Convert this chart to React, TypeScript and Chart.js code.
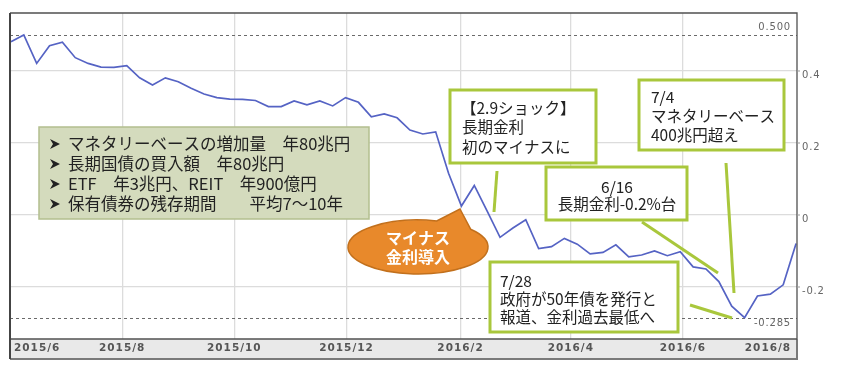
import { useEffect, useRef } from "react";
import { Chart, registerables } from "chart.js";

Chart.register(...registerables);

// ---- data ----
// weekly 10y JGB yield (%), first observation ~2015/6/1
const FIRST_DAY = 0.5; // days after 2015/6/1
const STEP_DAYS = 7;
const YIELD_10Y = [
  0.481, 0.5, 0.421, 0.47, 0.48, 0.437, 0.421, 0.411, 0.41, 0.415,
  0.381, 0.361, 0.381, 0.37, 0.352, 0.336, 0.326, 0.322, 0.321, 0.318,
  0.301, 0.301, 0.317, 0.306, 0.317, 0.303, 0.326, 0.313, 0.273, 0.281,
  0.27, 0.236, 0.225, 0.231, 0.116, 0.025, 0.082, 0.011, -0.062, -0.036,
  -0.013, -0.093, -0.088, -0.065, -0.081, -0.108, -0.104, -0.083, -0.116, -0.111,
  -0.1, -0.113, -0.102, -0.144, -0.15, -0.185, -0.253, -0.285, -0.225, -0.22,
  -0.194, -0.079,
];
const X_TICK_DAYS = [0, 61, 122, 183, 245, 305, 366, 427];
const X_TICK_LABELS = ["2015/6", "2015/8", "2015/10", "2015/12", "2016/2", "2016/4", "2016/6", "2016/8"];
const Y_TICKS = [0.4, 0.2, 0, -0.2];
const Y_TICK_LABELS = ["0.4", "0.2", "0", "-0.2"];
const X_MIN = 0;
const X_MAX = 428;
const Y_MIN = -0.3444;
const Y_MAX = 0.5611;
const MAX_MARK = 0.5;
const MAX_MARK_LABEL = "0.500";
const MIN_MARK = -0.285;
const MIN_MARK_LABEL = "-0.285";

const POLICY_LINES = [
  "マネタリーベースの増加量　年80兆円",
  "長期国債の買入額　年80兆円",
  "ETF　年3兆円、REIT　年900億円",
  "保有債券の残存期間　　平均7～10年",
];
const BUBBLE_LINES = ["マイナス", "金利導入"];
const NOTE_29 = ["【2.9ショック】", "長期金利", "初のマイナスに"];
const NOTE_74 = ["7/4", "マネタリーベース", "400兆円超え"];
const NOTE_616 = ["6/16", "長期金利-0.2%台"];
const NOTE_728 = ["7/28", "政府が50年債を発行と", "報道、金利過去最低へ"];

const W = 850;
const H = 380;
const JP = "'Noto Sans CJK JP', 'Noto Sans', sans-serif";
const GREEN = "#a9c73c";

function App() {
  const ref = useRef<HTMLCanvasElement | null>(null);

  useEffect(() => {
    document.body.style.margin = "0";
    const canvas = ref.current;
    if (!canvas) return;

    const overlay = {
      id: "overlay",
      beforeDatasetsDraw(chart: any) {
        const ctx = chart.ctx as CanvasRenderingContext2D;
        const a = chart.chartArea;
        const ys = chart.scales.y;
        ctx.save();
        ctx.strokeStyle = "#6a6a6a";
        ctx.lineWidth = 1;
        ctx.setLineDash([3, 3]);
        [MAX_MARK, MIN_MARK].forEach((v) => {
          const y = Math.round(ys.getPixelForValue(v)) + 0.5;
          ctx.beginPath();
          ctx.moveTo(a.left, y);
          ctx.lineTo(a.right, y);
          ctx.stroke();
        });
        ctx.setLineDash([]);
        ctx.fillStyle = "#666";
        ctx.font = "10px 'DejaVu Sans'";
        (ctx as any).letterSpacing = "0.8px";
        ctx.textAlign = "right";
        ctx.textBaseline = "middle";
        ctx.fillText(MAX_MARK_LABEL, a.right - 6, ys.getPixelForValue(MAX_MARK) - 8);
        ctx.fillText(MIN_MARK_LABEL, a.right - 6, ys.getPixelForValue(MIN_MARK) + 6);
        (ctx as any).letterSpacing = "0px";
        ctx.restore();
      },
      afterDraw(chart: any) {
        const ctx = chart.ctx as CanvasRenderingContext2D;
        const a = chart.chartArea;
        const xs = chart.scales.x;
        const ys = chart.scales.y;
        ctx.save();

        // bottom band
        const bandTop = a.bottom;
        const bandBottom = a.bottom + 20;
        ctx.fillStyle = "#e9e9e9";
        ctx.fillRect(a.left, bandTop, a.right - a.left, bandBottom - bandTop);
        ctx.strokeStyle = "#7a7a7a";
        ctx.lineWidth = 2;
        ctx.beginPath();
        ctx.moveTo(a.left, bandBottom);
        ctx.lineTo(a.right, bandBottom);
        ctx.lineTo(a.right, bandTop);
        ctx.stroke();

        // plot border
        ctx.strokeStyle = "#505050";
        ctx.lineWidth = 1.3;
        ctx.beginPath();
        ctx.moveTo(a.left, a.top);
        ctx.lineTo(a.right, a.top);
        ctx.lineTo(a.right, a.bottom);
        ctx.stroke();
        ctx.lineWidth = 1.6;
        ctx.beginPath();
        ctx.moveTo(a.left - 1, a.bottom);
        ctx.lineTo(a.right, a.bottom);
        ctx.stroke();
        ctx.lineWidth = 2;
        ctx.strokeStyle = "#444";
        ctx.beginPath();
        ctx.moveTo(a.left, a.top);
        ctx.lineTo(a.left, bandBottom);
        ctx.stroke();

        // x labels
        ctx.fillStyle = "#555";
        ctx.font = "bold 10.5px 'DejaVu Sans'";
        (ctx as any).letterSpacing = "1px";
        ctx.textBaseline = "middle";
        X_TICK_DAYS.forEach((d, i) => {
          const x = xs.getPixelForValue(d);
          if (i === 0) {
            ctx.textAlign = "left";
            ctx.fillText(X_TICK_LABELS[i], x + 4, bandTop + 9);
          } else if (i === X_TICK_DAYS.length - 1) {
            ctx.textAlign = "right";
            ctx.fillText(X_TICK_LABELS[i], x - 4, bandTop + 9);
          } else {
            ctx.textAlign = "center";
            ctx.fillText(X_TICK_LABELS[i], x, bandTop + 9);
          }
        });

        // y labels (right)
        ctx.font = "10px 'DejaVu Sans'";
        ctx.fillStyle = "#666";
        ctx.textAlign = "left";
        (ctx as any).letterSpacing = "0.8px";
        ctx.strokeStyle = "#999";
        ctx.lineWidth = 1;
        Y_TICKS.forEach((v, i) => {
          const y = ys.getPixelForValue(v);
          ctx.beginPath();
          ctx.moveTo(a.right, y);
          ctx.lineTo(a.right + 3, y);
          ctx.stroke();
          ctx.fillText(Y_TICK_LABELS[i], a.right + 5, y + 4);
        });
        (ctx as any).letterSpacing = "0px";

        // policy box
        ctx.fillStyle = "#d4dbbd";
        ctx.strokeStyle = "#b3bf8f";
        ctx.lineWidth = 1.5;
        ctx.fillRect(39, 127, 330, 92);
        ctx.strokeRect(39, 127, 330, 92);
        ctx.fillStyle = "#222";
        POLICY_LINES.forEach((t, i) => {
          const y = 144 + i * 20;
          // arrowhead bullet
          ctx.beginPath();
          ctx.moveTo(50, y - 5);
          ctx.lineTo(60, y);
          ctx.lineTo(50, y + 5);
          ctx.lineTo(53, y);
          ctx.closePath();
          ctx.fill();
          ctx.textAlign = "left";
          ctx.font = `16.5px ${JP}`;
          ctx.fillText(t, 68, y);
        });

        // green pointer lines
        ctx.strokeStyle = GREEN;
        ctx.lineWidth = 3;
        const ptr = (x1: number, y1: number, x2: number, y2: number) => {
          ctx.beginPath();
          ctx.moveTo(x1, y1);
          ctx.lineTo(x2, y2);
          ctx.stroke();
        };
        ptr(497, 171, 494, 212);
        ptr(726, 163, 734, 293);
        ptr(642, 222, 718, 273);
        ptr(690, 305, 732, 318);

        // note boxes
        const box = (x: number, y: number, w: number, h: number) => {
          ctx.fillStyle = "#fff";
          ctx.fillRect(x, y, w, h);
          ctx.strokeStyle = GREEN;
          ctx.lineWidth = 3;
          ctx.strokeRect(x, y, w, h);
          ctx.fillStyle = "#222";
          ctx.font = `15.5px ${JP}`;
          ctx.textBaseline = "middle";
        };
        box(450, 90, 146, 73);
        ctx.textAlign = "left";
        NOTE_29.forEach((t, i) => ctx.fillText(t, i === 0 ? 461 : 462, 108 + i * 19.5));

        box(639, 80, 145, 70);
        NOTE_74.forEach((t, i) => ctx.fillText(t, 651, 97 + i * 19));

        box(546, 167, 141, 53);
        ctx.textAlign = "center";
        NOTE_616.forEach((t, i) => ctx.fillText(t, 617, 187 + i * 17));

        box(490, 262, 188, 70);
        ctx.textAlign = "left";
        NOTE_728.forEach((t, i) => ctx.fillText(t, 500, 281 + i * 18));

        // orange bubble
        const cx = 418, cy = 247, rx = 70, ry = 27;
        ctx.beginPath();
        ctx.moveTo(460, 209);
        ctx.lineTo(cx + rx * Math.cos(-0.72), cy + ry * Math.sin(-0.72));
        ctx.ellipse(cx, cy, rx, ry, 0, -0.72, -1.3 + Math.PI * 2, false);
        ctx.closePath();
        ctx.fillStyle = "#e8892b";
        ctx.fill();
        ctx.strokeStyle = "#c2701c";
        ctx.lineWidth = 1.5;
        ctx.stroke();
        ctx.fillStyle = "#fff";
        ctx.font = `bold 16px ${JP}`;
        ctx.textAlign = "center";
        ctx.textBaseline = "middle";
        BUBBLE_LINES.forEach((t, i) => ctx.fillText(t, cx, 238 + i * 18.5));

        ctx.restore();
      },
    };

    const chart = new Chart(canvas, {
      type: "line",
      data: {
        datasets: [
          {
            label: "長期金利",
            data: YIELD_10Y.map((v, i) => ({ x: FIRST_DAY + i * STEP_DAYS, y: v })),
            borderColor: "#5563c4",
            borderWidth: 1.7,
            pointRadius: 0,
            tension: 0,
            fill: false,
          },
        ],
      },
      options: {
        responsive: false,
        animation: false,
        devicePixelRatio: 1,
        layout: { padding: { left: 10, top: 13, right: W - 797, bottom: H - 339 } },
        plugins: { legend: { display: false }, tooltip: { enabled: false } },
        scales: {
          x: {
            type: "linear",
            min: X_MIN,
            max: X_MAX,
            afterBuildTicks: (s: any) => {
              s.ticks = X_TICK_DAYS.map((v) => ({ value: v }));
            },
            ticks: { display: false },
            grid: {
              color: (c: any) =>
                c.index === 0 || c.index === X_TICK_DAYS.length - 1 ? "rgba(0,0,0,0)" : "#dcdcdc",
              lineWidth: 1.3,
              drawTicks: false,
            },
            border: { display: false },
          },
          y: {
            position: "right",
            min: Y_MIN,
            max: Y_MAX,
            afterBuildTicks: (s: any) => {
              s.ticks = Y_TICKS.map((v) => ({ value: v }));
            },
            ticks: { display: false },
            grid: { color: "#dcdcdc", lineWidth: 1.3, drawTicks: false },
            border: { display: false },
          },
        },
      },
      plugins: [overlay],
    } as any);

    return () => chart.destroy();
  }, []);

  return (
    <div style={{ width: W, height: H, overflow: "hidden", background: "#fff" }}>
      <canvas ref={ref} width={W} height={H} style={{ display: "block" }} />
    </div>
  );
}

export default App;
